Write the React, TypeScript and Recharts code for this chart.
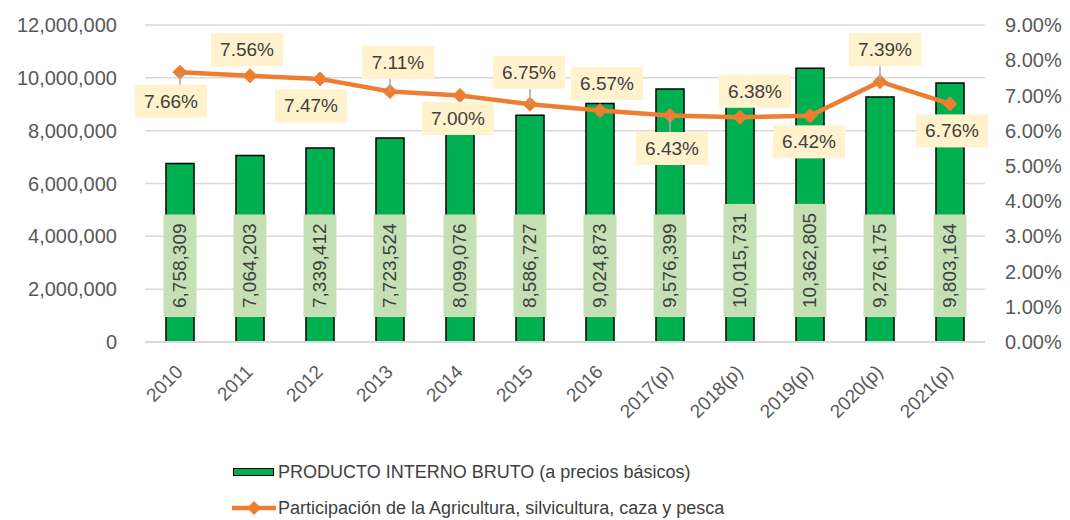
import React from 'react';
import { ComposedChart, Bar, Line, XAxis, YAxis, CartesianGrid, LabelList } from 'recharts';

const years = ['2010', '2011', '2012', '2013', '2014', '2015', '2016', '2017(p)', '2018(p)', '2019(p)', '2020(p)', '2021(p)'];
const pib = [6758309, 7064203, 7339412, 7723524, 8099076, 8586727, 9024873, 9576399, 10015731, 10362805, 9276175, 9803164];
const share = [7.66, 7.56, 7.47, 7.11, 7.0, 6.75, 6.57, 6.43, 6.38, 6.42, 7.39, 6.76];
const leftTicks = [0, 2000000, 4000000, 6000000, 8000000, 10000000, 12000000];
const rightTicks = [0, 1, 2, 3, 4, 5, 6, 7, 8, 9];

const barName = 'PRODUCTO INTERNO BRUTO (a precios básicos)';
const lineName = 'Participación de la Agricultura, silvicultura, caza y pesca';

// label placement (offset of label box centre from its point), leader-line flags
const lineLabelOffsets: [number, number][] = [
  [-9, 29], [-3, -26], [-9, 27], [8, -29], [-2, 23], [-1, -32],
  [7, -27], [2, 33], [15, -26], [-1, 26], [5, -32], [2, 27],
];
const leaderFlags = [true, false, false, true, false, true, false, true, false, false, true, false];

const data = years.map((y, i) => ({ year: y, pib: pib[i], share: share[i] }));

const FONT = "'Liberation Sans', Arial, sans-serif";
const TXT = '#404040';
const AX = '#595959';

const fmtNum = (v: number) => Number(v).toLocaleString('en-US');
const fmtPct = (v: number) => Number(v).toFixed(2) + '%';

const CatTick = (props: any) => {
  const { x, y, payload } = props;
  const tx = Number(x) + 4;
  const ty = Number(y) + 29;
  return (
    <text
      x={tx}
      y={ty}
      transform={`rotate(-45 ${tx} ${ty})`}
      textAnchor="end"
      fontSize={19}
      style={{ fontFamily: FONT }}
      fill={AX}
    >
      {payload.value}
    </text>
  );
};

const textLen = (s: string, fs: number) => {
  let w = 0;
  for (const c of s) {
    if (c === ',' || c === '.') w += 0.278;
    else if (c === '%') w += 0.889;
    else w += 0.556;
  }
  return w * fs;
};

const BarLabel = (props: any) => {
  const { x, y, width, height, value } = props;
  const s = fmtNum(value);
  const cx = Number(x) + Number(width) / 2;
  const base = Number(y) + Number(height);
  const bottom = base - 25;
  const h = textLen(s, 19) + 18;
  const cy = bottom - h / 2;
  return (
    <g>
      <rect x={cx - 16.5} y={bottom - h} width={33} height={h} fill="#C5E0B4" />
      <text
        x={cx}
        y={cy}
        transform={`rotate(-90 ${cx} ${cy})`}
        textAnchor="middle"
        dominantBaseline="central"
        fontSize={19}
        style={{ fontFamily: FONT }}
        fill={TXT}
      >
        {s}
      </text>
    </g>
  );
};

const LineLabel = (props: any) => {
  const { x, y, value, index } = props;
  const px = Number(x);
  const py = Number(y);
  const [dx, dy] = lineLabelOffsets[index] || [0, -25];
  const cx = px + dx;
  const cy = py + dy;
  const w = 72;
  const h = 33;
  let leader = null;
  if (leaderFlags[index]) {
    const ex = Math.max(cx - w / 2, Math.min(px, cx + w / 2));
    const ey = dy > 0 ? cy - h / 2 : cy + h / 2;
    leader = <line x1={px} y1={py} x2={ex} y2={ey} stroke="#A6A6A6" strokeWidth={1.5} />;
  }
  return (
    <g>
      {leader}
      <rect x={cx - w / 2} y={cy - h / 2} width={w} height={h} fill="#FFF2CC" />
      <text
        x={cx}
        y={cy}
        textAnchor="middle"
        dominantBaseline="central"
        fontSize={19}
        style={{ fontFamily: FONT }}
        fill={TXT}
      >
        {fmtPct(value)}
      </text>
    </g>
  );
};

const Diamond = (props: any) => {
  const { cx, cy, index } = props;
  if (cx == null || cy == null) return <g key={index} />;
  const r = 7;
  return (
    <polygon
      key={index}
      points={`${cx},${cy - r} ${cx + r},${cy} ${cx},${cy + r} ${cx - r},${cy}`}
      fill="#ED7D31"
      stroke="#ED7D31"
    />
  );
};

export default function App() {
  return (
    <div style={{ position: 'absolute', left: 0, top: 0, width: 1070, height: 520, fontFamily: FONT, background: '#fff' }}>
      <ComposedChart width={1070} height={520} data={data} margin={{ top: 25, right: 0, left: 0, bottom: 0 }} style={{ fontFamily: FONT }}>
        <CartesianGrid yAxisId="left" vertical={false} stroke="#D9D9D9" strokeWidth={1.5} />
        <XAxis
          dataKey="year"
          height={178}
          interval={0}
          tick={<CatTick />}
          tickLine={false}
          tickSize={0}
          axisLine={{ stroke: '#D9D9D9', strokeWidth: 2 }}
        />
        <YAxis
          yAxisId="left"
          width={145}
          domain={[0, 12000000]}
          ticks={leftTicks}
          tickFormatter={fmtNum}
          axisLine={false}
          tickLine={false}
          tickSize={0}
          tickMargin={28}
          tick={{ fill: AX, fontSize: 20, style: { fontFamily: FONT } }}
        />
        <YAxis
          yAxisId="right"
          orientation="right"
          width={85}
          domain={[0, 9]}
          ticks={rightTicks}
          tickFormatter={fmtPct}
          axisLine={false}
          tickLine={false}
          tickSize={0}
          tickMargin={20}
          tick={{ fill: AX, fontSize: 20, textAnchor: 'start', style: { fontFamily: FONT } }}
        />
        <Bar
          yAxisId="left"
          dataKey="pib"
          name={barName}
          fill="#00B050"
          stroke="#000"
          strokeWidth={1.5}
          barSize={28}
          isAnimationActive={false}
        >
          <LabelList dataKey="pib" content={<BarLabel />} />
        </Bar>
        <Line
          yAxisId="right"
          dataKey="share"
          name={lineName}
          stroke="#ED7D31"
          strokeWidth={4.5}
          dot={<Diamond />}
          activeDot={false}
          isAnimationActive={false}
        >
          <LabelList dataKey="share" content={<LineLabel />} />
        </Line>
      </ComposedChart>
      <div style={{ position: 'absolute', left: 233, top: 468, width: 41, height: 8, boxSizing: 'border-box', background: '#00B050', border: '1.5px solid #000' }} />
      <div style={{ position: 'absolute', left: 278, top: 460, fontSize: 18, lineHeight: '24px', color: TXT, whiteSpace: 'nowrap' }}>{barName}</div>
      <svg style={{ position: 'absolute', left: 231, top: 500 }} width={46} height={16}>
        <line x1={1} y1={8} x2={45} y2={8} stroke="#ED7D31" strokeWidth={4.5} />
        <polygon points="23,1 30,8 23,15 16,8" fill="#ED7D31" />
      </svg>
      <div style={{ position: 'absolute', left: 278, top: 496, fontSize: 18, lineHeight: '24px', color: TXT, whiteSpace: 'nowrap' }}>{lineName}</div>
    </div>
  );
}
